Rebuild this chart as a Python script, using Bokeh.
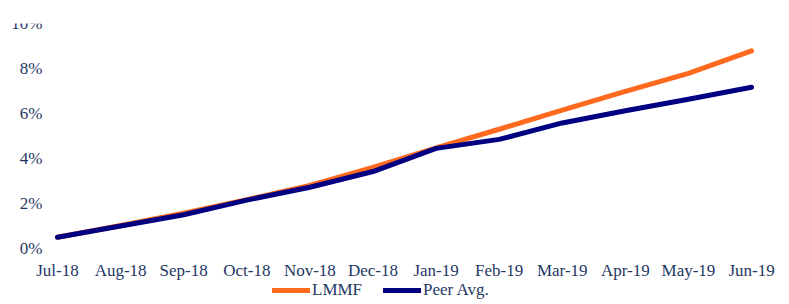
from bokeh.plotting import figure
from bokeh.models import Range1d, Legend, LegendItem
from bokeh.core.properties import value
from bokeh.embed import file_html
from bokeh.resources import INLINE

months = ["Jul-18", "Aug-18", "Sep-18", "Oct-18", "Nov-18", "Dec-18",
          "Jan-19", "Feb-19", "Mar-19", "Apr-19", "May-19", "Jun-19"]
lmmf = [0.50, 1.02, 1.57, 2.17, 2.80, 3.60, 4.47, 5.30, 6.15, 6.98, 7.78, 8.78]
peer = [0.50, 1.00, 1.50, 2.15, 2.72, 3.42, 4.45, 4.85, 5.58, 6.12, 6.63, 7.17]
y_ticks = [0, 2, 4, 6, 8, 10]
y_tick_labels = [f"{t}%" for t in y_ticks]

TEXT = "#1F3864"
FONT = "Liberation Serif"
ORANGE = "#FF6A1F"
NAVY = "#000080"

xs = list(range(len(months)))

# frame covers the whole chart area so that axis labels and legend are drawn inside it
p = figure(frame_width=775, frame_height=279, output_backend="svg", toolbar_location=None,
           x_range=Range1d(-0.9035, 11.38), y_range=Range1d(-2.4, 10),
           min_border_left=0, min_border_right=12, min_border_top=23, min_border_bottom=0)
p.outline_line_color = None
p.grid.visible = False
p.xaxis.visible = False
p.yaxis.visible = False

r1 = p.line(xs, lmmf, line_color=ORANGE, line_width=5, line_cap="round", line_join="round")
r2 = p.line(xs, peer, line_color=NAVY, line_width=5, line_cap="round", line_join="round")

# category labels (x axis)
label_y = -0.98
p.text(x=xs, y=[label_y] * len(xs), text=months,
       text_align="center", text_baseline="middle",
       text_font=value(FONT), text_font_size=value("17px"), text_color=TEXT)

# value labels (y axis)
label_x = -0.238
p.text(x=[label_x] * len(y_ticks), y=y_ticks, text=y_tick_labels,
       text_align="right", text_baseline="middle",
       text_font=value(FONT), text_font_size=value("17px"), text_color=TEXT)

legend = Legend(items=[LegendItem(label="LMMF", renderers=[r1]),
                       LegendItem(label="Peer Avg.", renderers=[r2])],
                orientation="horizontal", location=(272, 2),
                label_text_font=FONT, label_text_font_size="17px", label_text_color=TEXT,
                glyph_width=38, glyph_height=16, label_height=16, label_standoff=2,
                spacing=21, padding=0, margin=0,
                border_line_color=None, background_fill_alpha=0)
p.add_layout(legend, "center")

open("out.html", "w").write(file_html(p, INLINE))
